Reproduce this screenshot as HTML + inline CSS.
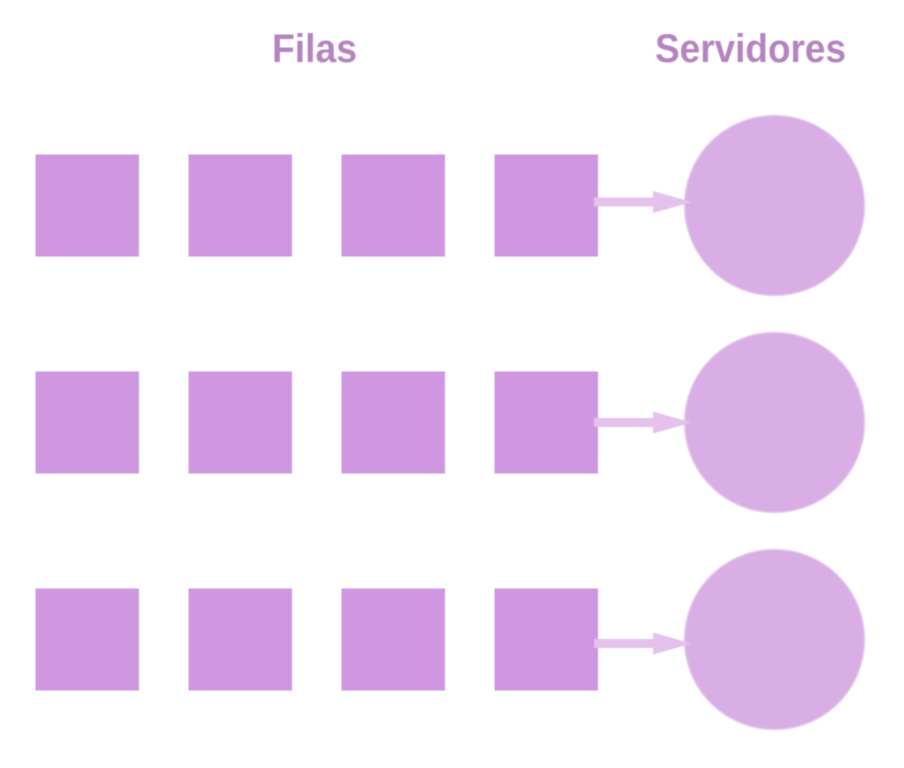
<!DOCTYPE html>
<html>
<head>
<meta charset="utf-8">
<style>
html,body{margin:0;padding:0;background:#fff;}
svg{display:block;}
text{font-family:"Liberation Sans",sans-serif;font-weight:700;fill:#b584c0;font-size:40px;}
</style>
</head>
<body>
<svg width="904" height="768" viewBox="0 0 904 768" xmlns="http://www.w3.org/2000/svg" style="filter:blur(0.4px)">
<text x="272" y="62" textLength="85" lengthAdjust="spacingAndGlyphs">Filas</text>
<text x="655" y="62" textLength="191" lengthAdjust="spacingAndGlyphs">Servidores</text>

<g fill="#ce97e0">
<rect x="35.500" y="154.500" width="103.500" height="102"/>
<rect x="188.500" y="154.500" width="103.500" height="102"/>
<rect x="341.500" y="154.500" width="103.500" height="102"/>
<rect x="494.500" y="154.500" width="103.500" height="102"/>
<rect x="35.500" y="371.500" width="103.500" height="102"/>
<rect x="188.500" y="371.500" width="103.500" height="102"/>
<rect x="341.500" y="371.500" width="103.500" height="102"/>
<rect x="494.500" y="371.500" width="103.500" height="102"/>
<rect x="35.500" y="588.500" width="103.500" height="102"/>
<rect x="188.500" y="588.500" width="103.500" height="102"/>
<rect x="341.500" y="588.500" width="103.500" height="102"/>
<rect x="494.500" y="588.500" width="103.500" height="102"/>
</g>

<g fill="#d9aee5" stroke="#e6cbee" stroke-width="1.500">
<circle cx="774.500" cy="205.500" r="90"/>
<circle cx="774.500" cy="422.500" r="90"/>
<circle cx="774.500" cy="639.500" r="90"/>
</g>

<g fill="#e4c2ec">
<path d="M594 197.500H653V191L692 202L653 213V206.500H594Z"/>
<path d="M594 418H653V411.500L692 422.500L653 433.500V427H594Z"/>
<path d="M594 639H653V632.500L692 643.500L653 654.500V648H594Z"/>
</g>
</svg>
</body>
</html>
